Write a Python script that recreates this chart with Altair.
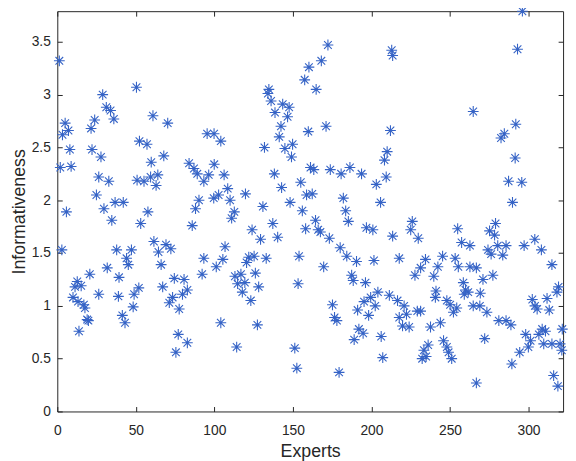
import altair as alt
import pandas as pd

# Expert index (x) and informativeness (y)
expert = [
    1.3, 5.0, 3.3, 7.1, 8.0, 1.9, 8.8, 5.8, 22.1, 27.8, 21.5, 23.8, 28.9, 31.2, 33.9, 36.0,
    26.4, 32.8, 24.9, 29.7, 36.8, 42.0, 50.4, 52.3, 50.8,
    34.7, 53.1, 2.9, 37.8, 47.2, 44.1, 45.2, 31.8, 20.7, 39.3, 12.7, 11.3, 15.2, 26.4, 10.0,
    13.2, 16.9, 17.6, 38.9, 48.9, 51.9, 48.3, 19.0, 41.4, 43.1, 13.8, 19.8,
    60.9, 70.3, 57.1, 59.8, 67.8, 55.2, 59.4, 64.0, 62.9, 57.7, 83.9, 87.0, 89.1, 93.3, 96.4,
    99.9, 106.2, 95.4, 99.8, 104.1, 90.2, 88.0, 99.6, 102.7,
    85.9, 61.5, 69.2, 72.3, 64.4, 66.1, 67.1, 74.5, 80.7, 82.8, 79.7, 73.4, 71.3, 77.6, 93.3,
    101.2, 105.4, 92.2, 106.8, 104.1, 77.0, 82.8, 75.5,
    160.2, 157.5, 134.7, 134.1, 136.1, 143.5, 147.6, 138.6, 146.6, 142.4, 159.8, 141.3, 144.9,
    149.8, 149.1, 131.9, 138.2, 155.0, 161.2, 142.8, 108.5, 110.0, 119.8, 112.7, 130.9, 148.2,
    156.0, 158.7,
    111.0, 158.1, 137.2, 124.0, 129.4, 140.3, 121.9, 125.3, 120.5, 133.0, 153.9, 126.1, 113.1,
    116.9, 114.8, 119.4, 117.8, 128.2, 123.2, 153.3, 127.4, 114.2, 151.2, 152.5,
    172.3, 168.1, 164.8, 212.9, 213.5, 171.1, 212.1, 210.0, 208.3, 209.4, 203.1, 163.3, 173.8,
    180.7, 186.3, 193.7, 162.3, 182.1, 183.6, 205.8,
    185.3, 164.4, 166.1, 167.5, 173.2, 196.8, 200.9, 213.5, 180.1, 184.3, 190.5, 201.6, 169.6,
    187.4, 188.4, 196.2, 204.1, 211.4, 199.5, 195.3, 191.2, 202.4, 198.2, 175.2, 176.5, 178.0,
    192.0, 194.7, 189.0, 206.2, 207.2, 179.4,
    264.8,
    226.0, 225.0, 229.8, 254.9, 257.4, 262.7, 217.7, 234.4, 245.3, 253.3, 255.3, 242.3, 231.3,
    227.7, 239.7, 262.7, 266.8, 258.5, 259.9, 261.6, 259.1, 241.1, 240.7, 216.6, 220.8,
    222.3, 217.7, 219.8, 224.0, 229.2, 231.3, 248.0, 250.1, 254.3, 252.2, 264.8, 237.6, 243.9,
    236.1, 233.4, 232.3, 234.8, 245.9, 248.0, 249.1, 251.1, 266.8,
    296.1, 293.0, 291.9, 284.6, 282.5, 291.5, 287.3, 295.7, 289.8,
    279.0, 275.2, 278.4, 304.0, 297.2, 308.2, 274.2, 280.4, 285.7, 276.2, 283.6, 314.9, 277.3,
    271.0, 269.3, 319.1, 318.1, 311.8, 302.4, 304.1, 305.5, 313.2, 269.0, 273.5, 281.1, 285.7,
    288.8, 272.1, 298.2, 301.3, 299.9, 294.4, 306.6, 308.7, 310.8, 309.7, 314.9, 320.1, 321.2,
    321.5, 289.4, 316.0, 318.7,
]
informativeness = [
    3.32, 2.73, 2.62, 2.66, 2.48, 2.31, 2.32, 1.89, 2.48, 2.41, 2.68, 2.76, 3.00, 2.88, 2.85, 2.77,
    2.22, 2.18, 2.05, 1.92, 1.98, 1.98, 3.07, 2.56, 2.19,
    1.81, 1.78, 1.53, 1.53, 1.53, 1.45, 1.39, 1.36, 1.30, 1.27, 1.23, 1.18, 1.19, 1.11, 1.08,
    1.04, 1.01, 0.98, 1.09, 1.11, 1.17, 0.99, 0.87, 0.91, 0.84, 0.76, 0.86,
    2.80, 2.73, 2.53, 2.36, 2.42, 2.18, 2.22, 2.24, 2.14, 1.89, 2.35, 2.30, 2.25, 2.18, 2.24,
    2.34, 2.24, 2.63, 2.63, 2.56, 2.00, 1.92, 2.02, 2.05,
    1.76, 1.61, 1.58, 1.54, 1.51, 1.39, 1.18, 1.26, 1.25, 1.15, 1.11, 1.08, 1.03, 0.97, 1.45,
    1.37, 1.44, 1.30, 1.56, 0.84, 0.73, 0.65, 0.56,
    3.26, 3.14, 3.05, 3.01, 2.94, 2.91, 2.88, 2.83, 2.79, 2.70, 2.65, 2.60, 2.49,
    2.53, 2.41, 2.50, 2.25, 2.17, 2.31, 2.12, 2.11, 2.00, 2.06, 1.89, 1.94, 1.98,
    1.90, 2.05,
    1.83, 1.73, 1.78, 1.72, 1.63, 1.65, 1.46, 1.47, 1.41, 1.45, 1.47, 1.31, 1.28,
    1.30, 1.21, 1.22, 1.13, 1.18, 1.05, 1.21, 0.82, 0.61, 0.60, 0.41,
    3.47, 3.32, 3.05, 3.42, 3.37, 2.70, 2.66, 2.46, 2.38, 2.22, 2.15, 2.29, 2.29,
    2.25, 2.31, 2.25, 2.06, 2.02, 1.90, 1.98,
    1.80, 1.81, 1.72, 1.70, 1.64, 1.74, 1.72, 1.66, 1.55, 1.47, 1.42, 1.43, 1.37,
    1.29, 1.24, 1.22, 1.13, 1.10, 1.08, 1.04, 0.96, 1.00, 0.91, 1.01, 0.89, 0.86,
    0.78, 0.74, 0.68, 0.71, 0.51, 0.37,
    2.84,
    1.80, 1.72, 1.64, 1.73, 1.60, 1.57, 1.45, 1.44, 1.47, 1.45, 1.37, 1.37, 1.36,
    1.29, 1.28, 1.37, 1.36, 1.22, 1.15, 1.13, 1.11, 1.14, 1.08, 1.05, 1.00,
    0.92, 0.89, 0.81, 0.80, 0.95, 0.95, 1.05, 1.01, 0.98, 0.94, 1.00, 0.80, 0.84,
    0.63, 0.58, 0.50, 0.52, 0.67, 0.61, 0.56, 0.50, 0.27,
    3.79, 3.43, 2.72, 2.63, 2.59, 2.40, 2.18, 2.17, 1.98,
    1.78, 1.71, 1.67, 1.63, 1.57, 1.53, 1.53, 1.57, 1.57, 1.49, 1.48, 1.39, 1.29,
    1.25, 1.12, 1.18, 1.13, 1.07, 1.06, 1.00, 0.97, 0.96, 1.00, 0.94, 0.86, 0.86,
    0.82, 0.69, 0.73, 0.67, 0.61, 0.56, 0.73, 0.78, 0.76, 0.64, 0.64, 0.64, 0.58,
    0.78, 0.45, 0.34, 0.24,
]

x_ticks = [0, 50, 100, 150, 200, 250, 300]
y_ticks = [0, 0.5, 1, 1.5, 2, 2.5, 3, 3.5]
x_domain = [0, 322]
y_domain = [0, 3.79]

df = pd.DataFrame({"Experts": expert, "Informativeness": informativeness})

STAR = "M-1,0L1,0M0,-1L0,1M-0.71,-0.71L0.71,0.71M-0.71,0.71L0.71,-0.71"
AX = "#262626"
FONT = "Liberation Sans"

xs = alt.Scale(domain=x_domain, nice=False, zero=False)
ys = alt.Scale(domain=y_domain, nice=False, zero=False)

main = alt.Chart(df).mark_point(
    shape=STAR, filled=False, size=120, strokeWidth=1.1, color="#3563C6", opacity=1
).encode(
    x=alt.X("Experts:Q", scale=xs,
            axis=alt.Axis(values=x_ticks, orient="bottom", tickSize=0, domain=False, grid=False,
                          labelFlush=False, format="d",
                          labelPadding=12, labelFontSize=14, labelColor=AX, labelFont=FONT,
                          title="Experts", titleFontSize=18, titleFontWeight="normal",
                          titleColor=AX, titleFont=FONT, titlePadding=6)),
    y=alt.Y("Informativeness:Q", scale=ys,
            axis=alt.Axis(values=y_ticks, orient="left", tickSize=0, domain=False, grid=False,
                          labelFlush=False, format="~g",
                          labelPadding=7, labelFontSize=14, labelColor=AX, labelFont=FONT,
                          title="Informativeness", titleFontSize=18, titleFontWeight="normal",
                          titleColor=AX, titleFont=FONT, titlePadding=3)),
)

def tick_layer(xo, yo):
    return alt.Chart(df).mark_point(opacity=0).encode(
        x=alt.X("Experts:Q", scale=xs,
                axis=alt.Axis(values=x_ticks, orient=xo, offset=-5, tickSize=5, labels=False,
                              domain=False, grid=False, title=None, tickColor=AX)),
        y=alt.Y("Informativeness:Q", scale=ys,
                axis=alt.Axis(values=y_ticks, orient=yo, offset=-5, tickSize=5, labels=False,
                              domain=False, grid=False, title=None, tickColor=AX)),
    )

chart = alt.layer(main, tick_layer("bottom", "left"), tick_layer("top", "right")).resolve_axis(
    x="independent", y="independent"
).properties(
    width=513, height=406,
    autosize=alt.AutoSizeParams(type="none"),
    padding={"left": 50, "top": 0, "right": 5, "bottom": 47},
    background="white",
).configure_view(stroke=AX, strokeWidth=1)

chart.save("out.html", embed_options={"renderer": "svg", "actions": False})
